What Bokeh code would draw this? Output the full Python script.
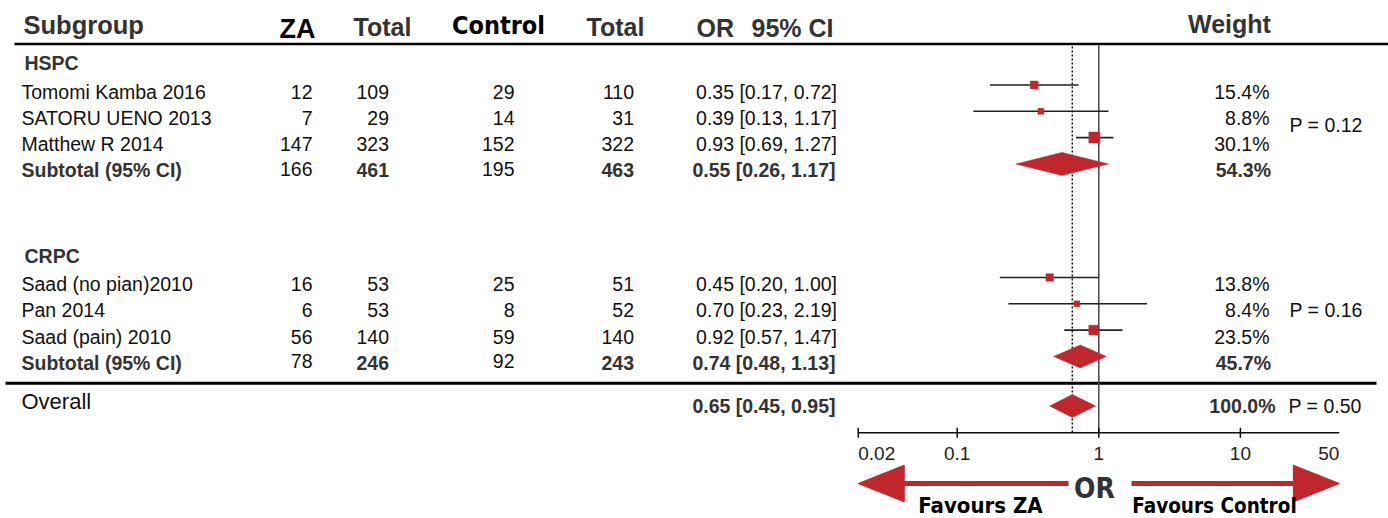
import math

from bokeh.core.properties import value
from bokeh.embed import file_html
from bokeh.models import ColumnDataSource, LogScale, Range1d
from bokeh.plotting import figure
from bokeh.resources import INLINE

# ---------------------------------------------------------------- data
hspc_studies = ["Tomomi Kamba 2016", "SATORU UENO 2013", "Matthew R 2014"]
hspc_za_events = [12, 7, 147]
hspc_za_total = [109, 29, 323]
hspc_ctrl_events = [29, 14, 152]
hspc_ctrl_total = [110, 31, 322]
hspc_or = [0.35, 0.39, 0.93]
hspc_lo = [0.17, 0.13, 0.69]
hspc_hi = [0.72, 1.17, 1.27]
hspc_weight = [15.4, 8.8, 30.1]
hspc_subtotal_counts = [166, 461, 195, 463]
hspc_subtotal_or = [0.55, 0.26, 1.17]
hspc_subtotal_weight = 54.3
hspc_p = "P = 0.12"

crpc_studies = ["Saad (no pian)2010", "Pan 2014", "Saad (pain) 2010"]
crpc_za_events = [16, 6, 56]
crpc_za_total = [53, 53, 140]
crpc_ctrl_events = [25, 8, 59]
crpc_ctrl_total = [51, 52, 140]
crpc_or = [0.45, 0.70, 0.92]
crpc_lo = [0.20, 0.23, 0.57]
crpc_hi = [1.00, 2.19, 1.47]
crpc_weight = [13.8, 8.4, 23.5]
crpc_subtotal_counts = [78, 246, 92, 243]
crpc_subtotal_or = [0.74, 0.48, 1.13]
crpc_subtotal_weight = 45.7
crpc_p = "P = 0.16"

overall_or = [0.65, 0.45, 0.95]
overall_weight = 100.0
overall_p = "P = 0.50"

axis_ticks = [0.02, 0.1, 1, 10]
axis_labels = ["0.02", "0.1", "1", "10", "50"]
axis_label_values = [0.02, 0.1, 1, 10, 50]
axis_limits = [0.02, 50]

# ---------------------------------------------------------------- layout
W, H = 1388, 518
RED = "#c0272d"
INK = "#111111"
GREY = "#333333"
SANS = value("Liberation Sans")
NARROW = value("DejaVu Sans Condensed, Roboto")
BODY = "19.5px"

# OR scale: position of OR = 1 and pixels per decade
PX_ONE = 1098.3
PX_DECADE = 141.6

p = figure(width=W, height=H, x_range=Range1d(0, W), y_range=Range1d(H, 0),
           x_axis_location=None, y_axis_location=None, toolbar_location=None,
           output_backend="svg", min_border=0, outline_line_color=None)
p.grid.visible = False
p.background_fill_color = "white"
p.border_fill_color = "white"
p.extra_x_ranges = {"or": Range1d(10 ** (-PX_ONE / PX_DECADE),
                                  10 ** ((W - PX_ONE) / PX_DECADE))}
p.extra_x_scales = {"or": LogScale()}


def txt(xs, ys, texts, size=BODY, align="left", color=INK, font=SANS,
        style="normal", range_name="default"):
    src = ColumnDataSource(dict(x=list(xs), y=list(ys), t=list(texts)))
    p.text(x="x", y="y", text="t", source=src, text_font=font,
           text_font_size=size, text_font_style=style, text_color=color,
           text_align=align, text_baseline="middle", x_range_name=range_name)


def ci_text(vals):
    return f"{vals[0]:.2f} [{vals[1]:.2f}, {vals[2]:.2f}]"


# ---------------------------------------------------------------- header
txt([23], [24], ["Subgroup"], size="25.5px", color=GREY, style="bold")
txt([297], [28], ["ZA"], size="27px", align="center", color="#000", style="bold")
txt([382, 615], [26.5, 26.5], ["Total", "Total"], size="25px", align="center",
    color=GREY, style="bold")
txt([498], [25], ["Control"], size="25px", align="center", color="#000",
    font=NARROW, style="bold")
txt([696, 751], [27.5, 27.5], ["OR", "95% CI"], size="25px", color=GREY, style="bold")
txt([1229], [23.5], ["Weight"], size="25px", align="center", color=GREY, style="bold")

p.segment(x0=[14], x1=[W], y0=[43.5], y1=[43.5], line_color="#000", line_width=2.5)
p.segment(x0=[5], x1=[1376], y0=[382.7], y1=[382.7], line_color="#000", line_width=3)

# reference lines: no effect (OR = 1) and overall estimate
p.segment(x0=[1], x1=[1], y0=[45], y1=[432], x_range_name="or",
          line_color="#444", line_width=1.5)
p.segment(x0=[overall_or[0]], x1=[overall_or[0]], y0=[46], y1=[432], x_range_name="or",
          line_color="#111", line_width=1.5, line_dash="2 2")

COL_ZA, COL_ZA_T, COL_C, COL_C_T, COL_OR, COL_W = 312, 388.5, 514, 633.5, 836.5, 1269
STEP = 26.3
MARK_DY = -6.5
HALF_DIAMOND = 11.5


def subgroup(name, name_y, first_y, studies, za, za_t, cc, cc_t, ors, lo, hi, w,
             sub_counts, sub_or, sub_w, p_text, p_y):
    ys = [first_y + i * STEP for i in range(len(studies))]
    sub_y = first_y + len(studies) * STEP
    txt([24], [name_y], [name], size=BODY, color=GREY, style="bold")
    txt([21] * len(studies), ys, studies)
    txt([COL_ZA] * len(ys), ys, [str(v) for v in za], align="right")
    txt([COL_ZA_T] * len(ys), ys, [str(v) for v in za_t], align="right")
    txt([COL_C] * len(ys), ys, [str(v) for v in cc], align="right")
    txt([COL_C_T] * len(ys), ys, [str(v) for v in cc_t], align="right")
    txt([COL_OR] * len(ys), ys,
        [ci_text(v) for v in zip(ors, lo, hi)], align="right")
    txt([COL_W] * len(ys), ys, [f"{v:.1f}%" for v in w], align="right")

    # subtotal row
    txt([21], [sub_y], ["Subtotal (95% CI)"], color=GREY, style="bold")
    txt([COL_ZA, COL_C], [sub_y - 1.5, sub_y - 1.5],
        [str(sub_counts[0]), str(sub_counts[2])], align="right")
    txt([COL_ZA_T, COL_C_T], [sub_y, sub_y],
        [str(sub_counts[1]), str(sub_counts[3])], align="right", color=GREY, style="bold")
    txt([COL_OR - 1.5], [sub_y], [ci_text(sub_or)], align="right", color=GREY, style="bold")
    txt([COL_W + 1.5], [sub_y], [f"{sub_w:.1f}%"], align="right", color=GREY, style="bold")
    txt([1289], [p_y], [p_text])

    # study estimates: confidence intervals and weighted squares
    my = [y + MARK_DY for y in ys]
    p.segment(x0=lo, x1=hi, y0=my, y1=my, x_range_name="or",
              line_color="#222", line_width=1.6)
    sq = ColumnDataSource(dict(x=ors, y=my, s=[2.0 * math.sqrt(v) for v in w]))
    p.scatter(x="x", y="y", size="s", source=sq, marker="square", x_range_name="or",
              fill_color=RED, line_color=RED, line_width=0.5)
    # pooled diamond
    dy = sub_y + MARK_DY
    p.patches(xs=[[sub_or[1], sub_or[0], sub_or[2], sub_or[0]]],
              ys=[[dy, dy - HALF_DIAMOND, dy, dy + HALF_DIAMOND]], x_range_name="or",
              fill_color=RED, line_color=RED, line_width=0.5)


subgroup("HSPC", 62, 91, hspc_studies, hspc_za_events, hspc_za_total,
         hspc_ctrl_events, hspc_ctrl_total, hspc_or, hspc_lo, hspc_hi, hspc_weight,
         hspc_subtotal_counts, hspc_subtotal_or, hspc_subtotal_weight, hspc_p, 124)
subgroup("CRPC", 255, 283.5, crpc_studies, crpc_za_events, crpc_za_total,
         crpc_ctrl_events, crpc_ctrl_total, crpc_or, crpc_lo, crpc_hi, crpc_weight,
         crpc_subtotal_counts, crpc_subtotal_or, crpc_subtotal_weight, crpc_p, 309)

# ---------------------------------------------------------------- overall
OY = 405.5
txt([21], [OY - 4.5], ["Overall"], size="22px")
txt([COL_OR - 1.5], [OY], [ci_text(overall_or)], align="right", color=GREY, style="bold")
txt([1275], [OY], [f"{overall_weight:.1f}%"], align="right", color=GREY, style="bold")
txt([1288], [OY], [overall_p])
p.patches(xs=[[overall_or[1], overall_or[0], overall_or[2], overall_or[0]]],
          ys=[[OY, OY - HALF_DIAMOND, OY, OY + HALF_DIAMOND]], x_range_name="or",
          fill_color=RED, line_color=RED, line_width=0.5)

# ---------------------------------------------------------------- OR axis
AY = 432.3
p.segment(x0=[axis_limits[0]], x1=[axis_limits[1]], y0=[AY], y1=[AY],
          x_range_name="or", line_color="#111", line_width=1.5)
p.segment(x0=axis_ticks, x1=axis_ticks, y0=[AY - 5] * len(axis_ticks),
          y1=[AY + 5] * len(axis_ticks), x_range_name="or",
          line_color="#111", line_width=1.5)
aligns = ["left", "center", "center", "center", "right"]
for v, lab, al in zip(axis_label_values, axis_labels, aligns):
    txt([v], [452.5], [lab], size="19px", align=al, color="#222", range_name="or")

# direction arrows under the axis
ARROW_Y = 483
HEAD_LEN = 46 / PX_DECADE          # head length in decades
HEAD_HALF = 18.3
left_inner = 10 ** ((1068 - PX_ONE) / PX_DECADE)
right_inner = 10 ** ((1131 - PX_ONE) / PX_DECADE)
l_tip, r_tip = axis_limits
l_back = l_tip * 10 ** HEAD_LEN
r_back = r_tip / 10 ** HEAD_LEN
p.segment(x0=[l_back, right_inner], x1=[left_inner, r_back], y0=[ARROW_Y, ARROW_Y],
          y1=[ARROW_Y, ARROW_Y], x_range_name="or", line_color=RED, line_width=5)
p.patches(xs=[[l_tip, l_back, l_back], [r_tip, r_back, r_back]],
          ys=[[ARROW_Y, ARROW_Y - HEAD_HALF, ARROW_Y + HEAD_HALF],
              [ARROW_Y, ARROW_Y - HEAD_HALF, ARROW_Y + HEAD_HALF]],
          x_range_name="or", fill_color=RED, line_color=RED)

txt([1094], [488], ["OR"], size="28px", align="center", color=GREY, font=NARROW, style="bold")
txt([980], [504.5], ["Favours ZA"], size="22px", align="center", color="#000",
    font=NARROW, style="bold")
txt([1214], [505.5], ["Favours Control"], size="20.5px", align="center", color="#000",
    font=NARROW, style="bold")

open("out.html", "w").write(file_html(p, INLINE))
